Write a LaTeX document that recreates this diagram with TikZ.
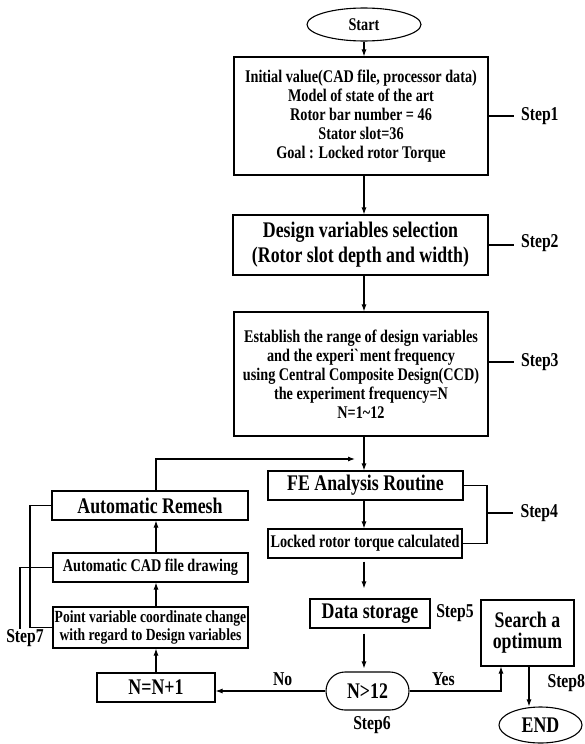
\documentclass[tikz,border=0pt]{standalone}
\usepackage{fontspec}
\setmainfont{Liberation Serif}[FakeStretch=0.8]
\usepackage{tikz}
\usetikzlibrary{arrows.meta,shapes,positioning}
\tikzset{>={Latex[width=5pt,length=7pt]}}
\tikzset{
  box/.style={draw, rectangle, inner sep=0pt, align=center,
    font=\fontsize{17.8}{19}\selectfont\bfseries},
  bigbox/.style={box, font=\fontsize{22.3}{25}\selectfont\bfseries},
  term/.style={draw, ellipse, inner sep=0pt},
  steplbl/.style={inner xsep=7pt, inner ysep=0pt,
    font=\fontsize{19.6}{20}\selectfont\bfseries},
}

\begin{document}
\begin{tikzpicture}[x=1pt, y=-1pt, line width=1.1pt]

  \useasboundingbox (0,0) rectangle (584,744);

  \coordinate (spine) at (364,0);
  \coordinate (lx) at (156,0);

  % main column
  \node[term, minimum width=114pt, minimum height=33pt,
    font=\fontsize{17.8}{19}\selectfont\bfseries] (start) at (364,24.5) {Start};
  \node[box, minimum width=254pt, minimum height=118pt] (init) at (361,116)
    {Initial value(CAD file, processor data)\\ Model of state of the art\\
     Rotor bar number = 46\\ Stator slot=36\\ Goal : Locked rotor Torque};
  \node[bigbox, minimum width=255pt, minimum height=60pt] (design) at (360.5,245)
    {Design variables selection\\ (Rotor slot depth and width)};
  \node[box, minimum width=254pt, minimum height=124pt] (ccd) at (361,374)
    {Establish the range of design variables\\ and the experi\textasciigrave ment frequency\\
     using Central Composite Design(CCD)\\ the experiment frequency=N\\ N=1\textasciitilde12};
  \node[bigbox, minimum width=195pt, minimum height=29pt] (fe) at (365.5,485.5) {FE Analysis Routine};
  \node[box, minimum width=194pt, minimum height=29pt] (locked) at (365,543.5) {Locked rotor torque calculated};
  \node[bigbox, minimum width=120pt, minimum height=29pt] (data) at (370,613.5) {Data storage};
  \node[bigbox, rounded corners=19pt, minimum width=83pt, minimum height=38pt] (check) at (367.5,691) {N>12};

  % right side
  \node[bigbox, minimum width=93pt, minimum height=66pt,
    font=\fontsize{22.3}{21}\selectfont\bfseries] (search) at (527.5,633) {Search a\\ optimum};
  \node[term, minimum width=83pt, minimum height=36pt,
    font=\fontsize{22.3}{25}\selectfont\bfseries] (theend) at (540.5,725) {END};

  % left loop
  \node[bigbox, minimum width=196pt, minimum height=29pt] (remesh) at (150,505.5) {Automatic Remesh};
  \node[box, minimum width=195pt, minimum height=29pt] (cad) at (150.5,567.5) {Automatic CAD file drawing};
  \node[box, minimum width=195pt, minimum height=41pt,
    font=\fontsize{17}{18}\selectfont\bfseries] (point) at (150.5,627.5)
    {Point variable coordinate change\\ with regard to Design variables};
  \node[bigbox, minimum width=118pt, minimum height=29pt] (incr) at (156,687.5) {N=N+1};

  \draw[->] (start) -- (init.north -| start);
  \draw[->] (init.south -| spine) -- (design.north -| spine);
  \draw[->] (design.south -| spine) -- (ccd.north -| spine);
  \draw[->] (ccd.south -| spine) -- (fe.north -| spine);
  \draw[->] (fe.south -| spine) -- (locked.north -| spine);
  \draw[->, shorten <=3pt, shorten >=10pt] (locked.south -| spine) -- (data.north -| spine);
  \draw[->, shorten <=5pt, shorten >=3pt] (data.south -| spine) -- (check.north -| spine);

  \draw[->] (check.west) -- node[steplbl, above=5pt, pos=0.39]{No} (check.west -| incr.east); % no
  \coordinate (yes) at (501,0);
  \draw[->] (check.east) -| node[steplbl, above=5pt, pos=0.185]{Yes} (search.south -| yes); % yes
  \coordinate (s8) at (529,0);
  \draw[->] (search.south -| s8) -- (theend.north -| s8);

  \draw[->] (incr.north -| lx) -- (point.south -| lx);
  \draw[->] (point.north -| lx) -- (cad.south -| lx);
  \draw[->] (cad.north -| lx) -- (remesh.south -| lx);
  \coordinate (back) at (355,459);
  \draw[->] (remesh.north -| lx) |- (back); % back to FE

  % steps
  \node[steplbl, right=25pt of init.east] (step1) {Step1};
  \draw (init.east) -- (step1);
  \node[steplbl, right=25pt of design.east, yshift=2pt] (step2) {Step2};
  \draw (design.east) -- (design.east -| step2.west);
  \coordinate (c3) at ([yshift=12pt]ccd.east);
  \node[steplbl, right=25pt of c3] (step3) {Step3};
  \draw (c3) -- (step3);
  \coordinate (b4) at (487,513);
  \draw (fe.east) -| (b4) |- (locked.east);
  \node[steplbl, right=26pt of b4] (step4) {Step4};
  \draw (b4) -- (step4);
  \node[steplbl] (step5) at (455,613) {Step5};
  \node[steplbl] (step6) at (372,725) {Step6};
  \coordinate (b7) at (30,600);
  \draw (remesh.west) -| (b7) |- (point.west);
  \coordinate (s7) at (20,629);
  \draw (cad.west) -| (s7);
  \node[steplbl] (step7) at (25,638) {Step7};
  \node[steplbl, anchor=west, inner xsep=0pt] (step8) at (547,683) {Step8};

\end{tikzpicture}
\end{document}
